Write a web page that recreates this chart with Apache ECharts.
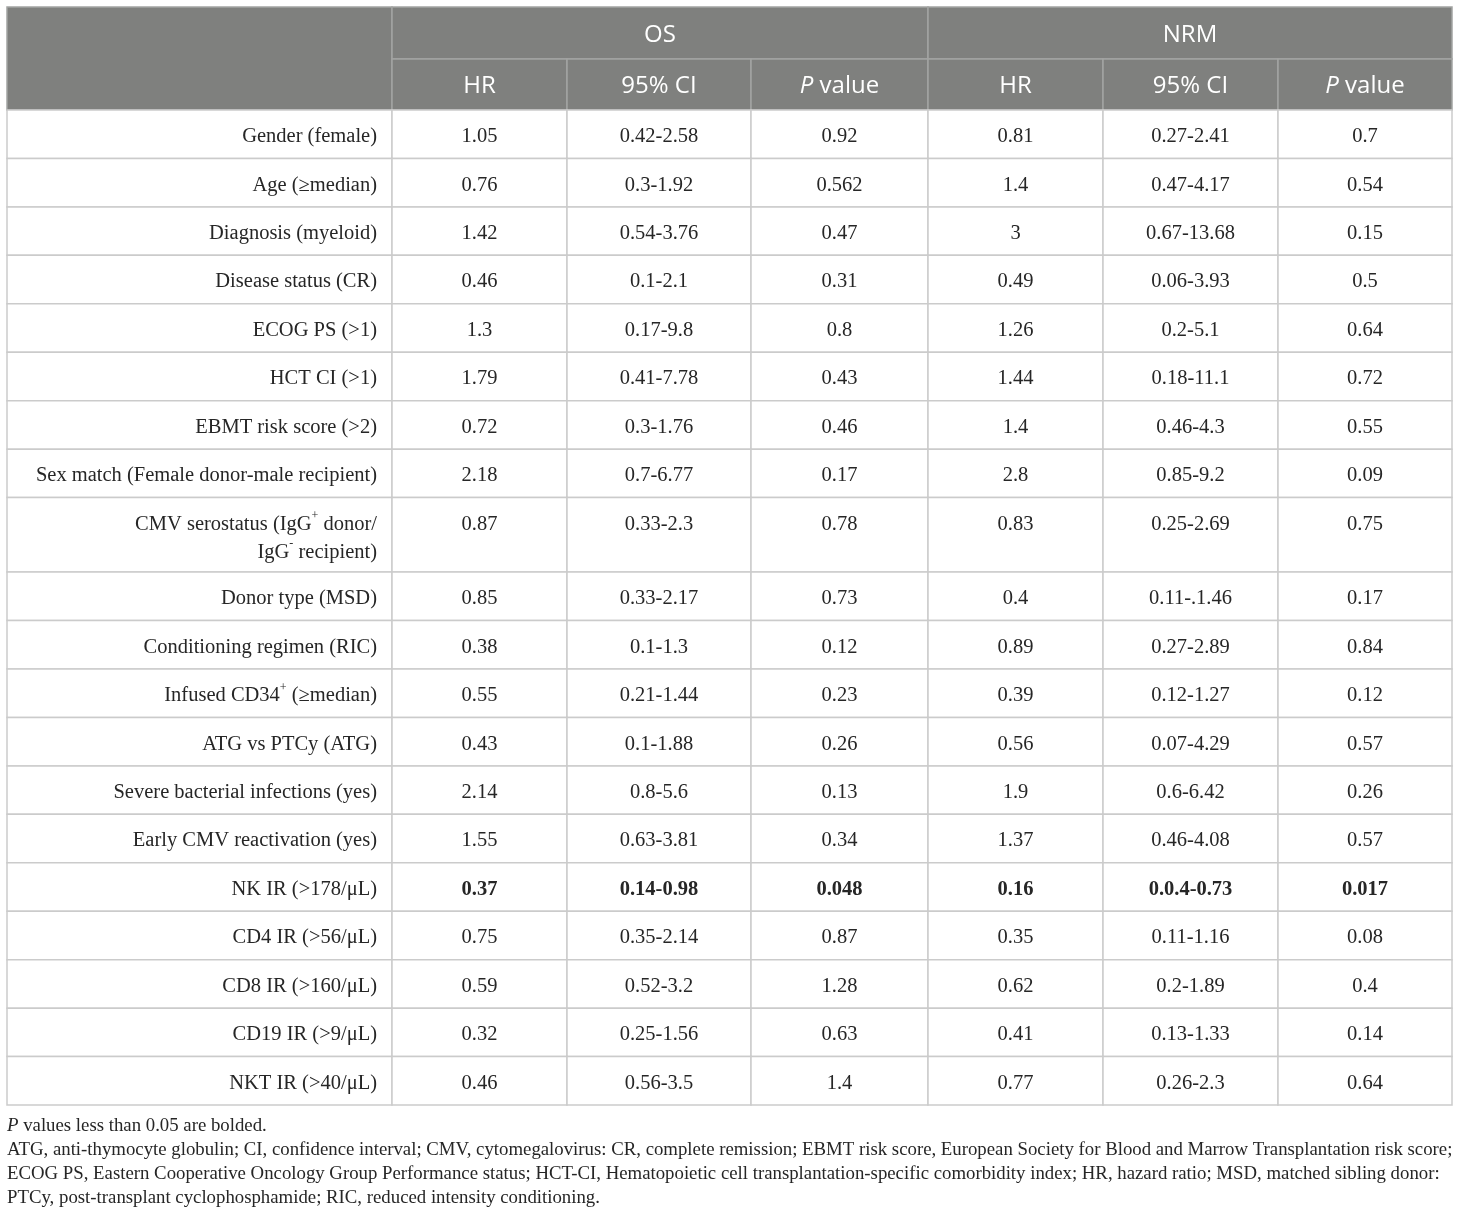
<!DOCTYPE html>
<html>
<head>
<meta charset="utf-8">
<title>Multivariate analysis OS / NRM</title>
<script src="https://cdn.jsdelivr.net/npm/echarts@6/dist/echarts.min.js"></script>
<style>
  html, body { margin: 0; padding: 0; background: #fff; }
  #chart { width: 1460px; height: 1216px; }
</style>
</head>
<body>
<div id="chart"></div>
<script>
// table content
const groups = ['OS', 'NRM'];
const subHeaders = ['HR', '95% CI', 'P value'];
const variables = [
  'Gender (female)',
  'Age (≥median)',
  'Diagnosis (myeloid)',
  'Disease status (CR)',
  'ECOG PS (>1)',
  'HCT CI (>1)',
  'EBMT risk score (>2)',
  'Sex match (Female donor-male recipient)',
  'CMV serostatus (IgG⁺ donor/\nIgG⁻ recipient)',
  'Donor type (MSD)',
  'Conditioning regimen (RIC)',
  'Infused CD34⁺ (≥median)',
  'ATG vs PTCy (ATG)',
  'Severe bacterial infections (yes)',
  'Early CMV reactivation (yes)',
  'NK IR (>178/μL)',
  'CD4 IR (>56/μL)',
  'CD8 IR (>160/μL)',
  'CD19 IR (>9/μL)',
  'NKT IR (>40/μL)'
];
const osHR = ['1.05', '0.76', '1.42', '0.46', '1.3', '1.79', '0.72', '2.18', '0.87', '0.85',
  '0.38', '0.55', '0.43', '2.14', '1.55', '0.37', '0.75', '0.59', '0.32', '0.46'];
const osCI = ['0.42-2.58', '0.3-1.92', '0.54-3.76', '0.1-2.1', '0.17-9.8', '0.41-7.78', '0.3-1.76',
  '0.7-6.77', '0.33-2.3', '0.33-2.17', '0.1-1.3', '0.21-1.44', '0.1-1.88', '0.8-5.6', '0.63-3.81',
  '0.14-0.98', '0.35-2.14', '0.52-3.2', '0.25-1.56', '0.56-3.5'];
const osP = ['0.92', '0.562', '0.47', '0.31', '0.8', '0.43', '0.46', '0.17', '0.78', '0.73',
  '0.12', '0.23', '0.26', '0.13', '0.34', '0.048', '0.87', '1.28', '0.63', '1.4'];
const nrmHR = ['0.81', '1.4', '3', '0.49', '1.26', '1.44', '1.4', '2.8', '0.83', '0.4',
  '0.89', '0.39', '0.56', '1.9', '1.37', '0.16', '0.35', '0.62', '0.41', '0.77'];
const nrmCI = ['0.27-2.41', '0.47-4.17', '0.67-13.68', '0.06-3.93', '0.2-5.1', '0.18-11.1', '0.46-4.3',
  '0.85-9.2', '0.25-2.69', '0.11-.1.46', '0.27-2.89', '0.12-1.27', '0.07-4.29', '0.6-6.42', '0.46-4.08',
  '0.0.4-0.73', '0.11-1.16', '0.2-1.89', '0.13-1.33', '0.26-2.3'];
const nrmP = ['0.7', '0.54', '0.15', '0.5', '0.64', '0.72', '0.55', '0.09', '0.75', '0.17',
  '0.84', '0.12', '0.57', '0.26', '0.57', '0.017', '0.08', '0.4', '0.14', '0.64'];
const footnotes = [
  '{i|P} values less than 0.05 are bolded.',
  'ATG, anti-thymocyte globulin; CI, confidence interval; CMV, cytomegalovirus: CR, complete remission; EBMT risk score, European Society for Blood and Marrow Transplantation risk score;',
  'ECOG PS, Eastern Cooperative Oncology Group Performance status; HCT-CI, Hematopoietic cell transplantation-specific comorbidity index; HR, hazard ratio; MSD, matched sibling donor:',
  'PTCy, post-transplant cyclophosphamide; RIC, reduced intensity conditioning.'
];

// layout (pixels inside the table box)
const colEdges = [0, 385, 560, 744, 921, 1096, 1271, 1445];
const headRows = [52, 51];
const rowH = 48.45;
const lineH = 28;
const tableW = colEdges[colEdges.length - 1];

const HEAD_BG = '#7f807e';
const HEAD_LINE = '#a3a4a2';
const GRID_LINE = '#cbcbcb';
const TEXT = '#262626';
const SERIF = '"Liberation Serif", "Times New Roman", serif';
const SANS = '"Open Sans", "Noto Sans", sans-serif';

const bodyCols = [osHR, osCI, osP, nrmHR, nrmCI, nrmP];
const pCols = [osP, nrmP];

// superscript markers -> rich tokens
function richLabel(s) {
  return s.replace(/⁺/g, '{sup|+}').replace(/⁻/g, '{sup|-}');
}

// row edges from label line counts
const rowEdges = [0, headRows[0], headRows[0] + headRows[1]];
variables.forEach(function (v) {
  const lines = v.split('\n').length;
  const h = lines === 1 ? rowH : rowH + (lines - 1) * 26.05;
  rowEdges.push(rowEdges[rowEdges.length - 1] + h);
});
const tableH = rowEdges[rowEdges.length - 1];

const cells = [];
// header: blank corner spanning both header rows
cells.push({ value: [colEdges[0], rowEdges[0], colEdges[1], rowEdges[2]], text: '', kind: 'head' });
groups.forEach(function (g, gi) {
  cells.push({ value: [colEdges[1 + gi * 3], rowEdges[0], colEdges[4 + gi * 3], rowEdges[1]], text: g, kind: 'head' });
  subHeaders.forEach(function (s, si) {
    const txt = s === 'P value' ? '{i|P} value' : s;
    cells.push({ value: [colEdges[1 + gi * 3 + si], rowEdges[1], colEdges[2 + gi * 3 + si], rowEdges[2]], text: txt, kind: 'head' });
  });
});
// body
variables.forEach(function (v, r) {
  const bold = pCols.some(function (c) { return parseFloat(c[r]) < 0.05; });
  const y0 = rowEdges[r + 2], y1 = rowEdges[r + 3];
  cells.push({ value: [colEdges[0], y0, colEdges[1], y1], text: richLabel(v), kind: 'label' });
  bodyCols.forEach(function (col, c) {
    cells.push({ value: [colEdges[c + 1], y0, colEdges[c + 2], y1], text: col[r], kind: bold ? 'bold' : 'body' });
  });
});

function renderCell(params, api) {
  const d = cells[params.dataIndex];
  const p0 = api.coord([api.value(0), api.value(1)]);
  const p1 = api.coord([api.value(2), api.value(3)]);
  const w = p1[0] - p0[0], h = p1[1] - p0[1];
  const head = d.kind === 'head';
  const children = [{
    type: 'rect',
    shape: { x: p0[0], y: p0[1], width: w, height: h },
    style: { fill: head ? HEAD_BG : '#fff', stroke: head ? HEAD_LINE : GRID_LINE, lineWidth: 1.5 }
  }];
  if (d.text) {
    if (head) {
      children.push({
        type: 'text',
        style: {
          text: d.text, x: p0[0] + w / 2, y: p0[1] + h / 2 + 2,
          align: 'center', verticalAlign: 'middle',
          fill: '#fff', font: '24px ' + SANS,
          rich: { i: { fontStyle: 'italic', fontSize: 24, fontFamily: SANS, fill: '#fff' } }
        }
      });
    } else {
      const label = d.kind === 'label';
      children.push({
        type: 'text',
        style: {
          text: d.text,
          x: label ? p1[0] - 15 : p0[0] + w / 2,
          y: p0[1] + (rowH - lineH) / 2 + 2.5,
          align: label ? 'right' : 'center', verticalAlign: 'top',
          fill: TEXT, fontFamily: SERIF, fontSize: 20.5, lineHeight: lineH,
          fontWeight: d.kind === 'bold' ? 'bold' : 'normal',
          rich: { sup: { fontSize: 12, fontFamily: SERIF, fill: TEXT, verticalAlign: 'top', lineHeight: 18 } }
        }
      });
    }
  }
  return { type: 'group', children: children };
}

const chart = echarts.init(document.getElementById('chart'), null, { renderer: 'canvas' });
chart.setOption({
  backgroundColor: '#fff',
  animation: false,
  grid: { left: 7, top: 7, width: tableW, height: tableH },
  xAxis: { type: 'value', min: 0, max: tableW, show: false },
  yAxis: { type: 'value', min: 0, max: tableH, inverse: true, show: false },
  series: [{
    type: 'custom',
    renderItem: renderCell,
    data: cells,
    silent: true
  }],
  graphic: footnotes.map(function (t, i) {
    return {
      type: 'text',
      left: 7,
      top: 7 + tableH + 9 + i * 24,
      style: {
        text: t, fill: TEXT, font: '18.8px ' + SERIF, lineHeight: 24,
        rich: { i: { fontStyle: 'italic', fontSize: 18.8, fontFamily: SERIF, fill: TEXT } }
      }
    };
  })
});
window.addEventListener('resize', function () { chart.resize(); });
</script>
</body>
</html>
